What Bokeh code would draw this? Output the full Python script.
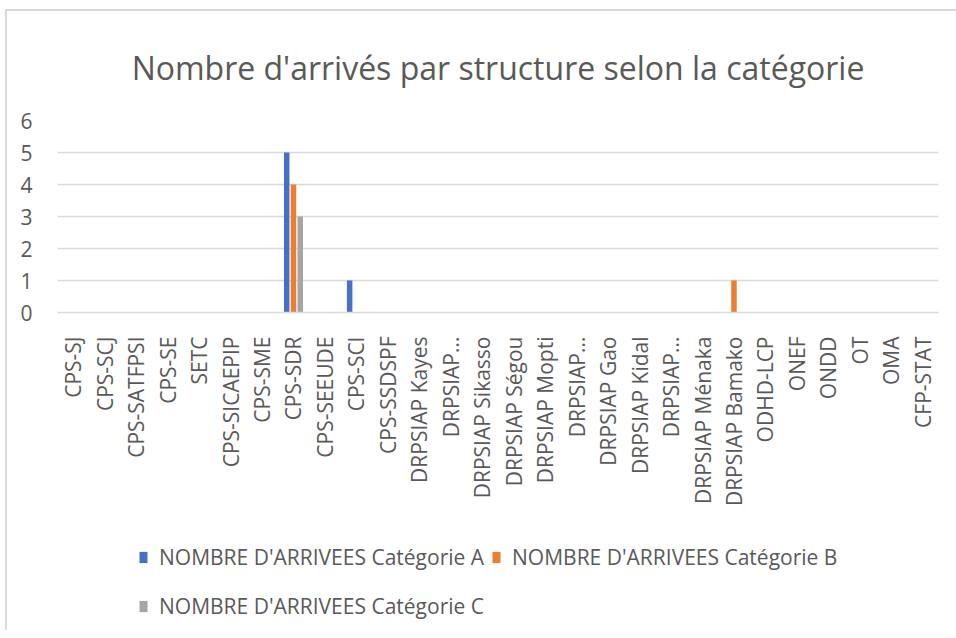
import math
from bokeh.plotting import figure
from bokeh.models import ColumnDataSource, Legend, LegendItem, FixedTicker
from bokeh.layouts import column
from bokeh.transform import dodge
from bokeh.embed import file_html
from bokeh.resources import INLINE

categories = ["CPS-SJ", "CPS-SCJ", "CPS-SATFPSI", "CPS-SE", "SETC", "CPS-SICAEPIP",
              "CPS-SME", "CPS-SDR", "CPS-SEEUDE", "CPS-SCI", "CPS-SSDSPF",
              "DRPSIAP Kayes", "DRPSIAP...", "DRPSIAP Sikasso", "DRPSIAP Ségou",
              "DRPSIAP Mopti", "DRPSIAP...", "DRPSIAP Gao", "DRPSIAP Kidal",
              "DRPSIAP...", "DRPSIAP Ménaka", "DRPSIAP Bamako", "ODHD-LCP",
              "ONEF", "ONDD", "OT", "OMA", "CFP-STAT"]
cat_a = [0, 0, 0, 0, 0, 0, 0, 5, 0, 1, 0, 0, 0, 0, 0, 0, 0, 0, 0, 0, 0, 0, 0, 0, 0, 0, 0, 0]
cat_b = [0, 0, 0, 0, 0, 0, 0, 4, 0, 0, 0, 0, 0, 0, 0, 0, 0, 0, 0, 0, 0, 1, 0, 0, 0, 0, 0, 0]
cat_c = [0, 0, 0, 0, 0, 0, 0, 3, 0, 0, 0, 0, 0, 0, 0, 0, 0, 0, 0, 0, 0, 0, 0, 0, 0, 0, 0, 0]
series_names = ["NOMBRE D'ARRIVEES Catégorie A", "NOMBRE D'ARRIVEES Catégorie B",
                "NOMBRE D'ARRIVEES Catégorie C"]
y_ticks = [0, 1, 2, 3, 4, 5, 6]

colors = ["#4472C4", "#ED7D31", "#A5A5A5"]
FONT = "Open Sans"
GRAY = "#595959"

pos = list(range(len(categories)))
src = ColumnDataSource(dict(x=pos, a=cat_a, b=cat_b, c=cat_c))

p = figure(x_range=(-0.5, len(categories) - 0.5), y_range=(0, 6), width=949, height=527,
           output_backend="svg", toolbar_location=None,
           title="Nombre d'arrivés par structure selon la catégorie")
p.title.align = "center"
p.title.text_font = FONT
p.title.text_font_size = "32px"
p.title.text_font_style = "normal"
p.title.text_color = GRAY
p.title.standoff = 64

w = 0.175
p.vbar(x=dodge("x", -0.215), top="a", width=w, source=src, color=colors[0], line_color=None)
p.vbar(x=dodge("x", 0.0), top="b", width=w, source=src, color=colors[1], line_color=None)
p.vbar(x=dodge("x", 0.215), top="c", width=w, source=src, color=colors[2], line_color=None)

p.outline_line_color = None
p.min_border_left = 50
p.min_border_right = 18
p.min_border_top = 108
p.min_border_bottom = 226

p.yaxis.ticker = y_ticks
p.yaxis.axis_line_color = None
p.yaxis.major_tick_line_color = None
p.yaxis.minor_tick_line_color = None
p.yaxis.major_label_text_font = FONT
p.yaxis.major_label_text_font_size = "21px"
p.yaxis.major_label_text_color = GRAY
p.yaxis.major_label_standoff = 19

p.xaxis.ticker = FixedTicker(ticks=pos)
p.xaxis.major_label_overrides = {i: c for i, c in zip(pos, categories)}
p.xaxis.axis_line_color = "#D9D9D9"
p.xaxis.axis_line_width = 1.5
p.xaxis.major_tick_line_color = None
p.xaxis.minor_tick_line_color = None
p.xaxis.major_label_orientation = math.pi / 2
p.xaxis.major_label_text_font = FONT
p.xaxis.major_label_text_font_size = "21px"
p.xaxis.major_label_text_color = GRAY
p.xaxis.major_label_standoff = 18

p.xgrid.grid_line_color = None
p.ygrid.grid_line_color = "#D9D9D9"
p.ygrid.grid_line_width = 1.5

# legend strip below the chart
p2 = figure(width=949, height=92, x_range=(0, 1), y_range=(0, 1),
            x_axis_location=None, y_axis_location=None,
            output_backend="svg", toolbar_location=None, min_border=0)
p2.grid.grid_line_color = None
p2.outline_line_color = None
dummy = dict(x=[-10], top=[0])
l_a = p2.vbar(x="x", top="top", width=0.1, source=ColumnDataSource(dummy), color=colors[0], line_color=None)
l_b = p2.vbar(x="x", top="top", width=0.1, source=ColumnDataSource(dummy), color=colors[1], line_color=None)
l_c = p2.vbar(x="x", top="top", width=0.1, source=ColumnDataSource(dummy), color=colors[2], line_color=None)

leg1 = Legend(items=[LegendItem(label=series_names[0], renderers=[l_a]),
                     LegendItem(label=series_names[1], renderers=[l_b])],
              orientation="horizontal", location=(81, 59))
leg2 = Legend(items=[LegendItem(label=series_names[2], renderers=[l_c])],
              orientation="horizontal", location=(81, 10))
for lg in (leg1, leg2):
    lg.label_text_font = FONT
    lg.label_text_font_size = "21px"
    lg.label_text_color = GRAY
    lg.glyph_width = 10
    lg.glyph_height = 14
    lg.label_standoff = 11
    lg.spacing = 7
    lg.border_line_color = None
    lg.background_fill_alpha = 0
    lg.label_height = 20
    lg.padding = 0
    lg.margin = 0
p2.add_layout(leg1, "center")
p2.add_layout(leg2, "center")

layout = column(p, p2, spacing=0, margin=(9, 0, 0, 5),
                styles={"border-left": "2px solid #D9D9D9", "border-top": "2px solid #D9D9D9"})
open("out.html", "w").write(file_html(layout, INLINE))
